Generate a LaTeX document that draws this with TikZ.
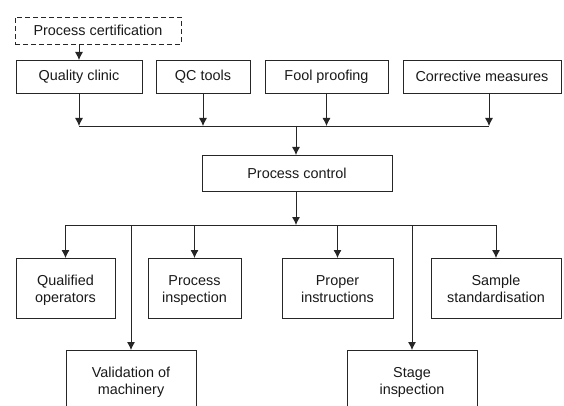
\documentclass[tikz,border=0pt]{standalone}
\usepackage{fontspec}
\setmainfont{Liberation Sans}
\usetikzlibrary{arrows.meta}
\newcommand\tpad{\rule{0pt}{14pt}}
\newcommand\bpad{\rule[-3pt]{0pt}{3pt}}
\begin{document}
\begin{tikzpicture}[x=1pt,y=-1pt,
  box/.style={draw=black!85, line width=0.8pt, inner sep=0pt, outer sep=0pt,
    align=center, font=\fontsize{14.4}{17}\selectfont, text=black!90},
  dbox/.style={box, dash pattern=on 5pt off 3pt},
  arr/.style={draw=black!85, line width=0.8pt, -{Latex[length=8pt,width=8pt]}},
  ln/.style={draw=black!85, line width=0.8pt}]
\useasboundingbox (0,0) rectangle (564,406);
\clip (0,0) rectangle (564,406);
% top
\node[dbox, minimum width=166pt, minimum height=27pt] (cert) at (98,30.5) {Process certification};
\node[box, minimum width=126pt, minimum height=33pt] (qc) at (79,76.5) {Quality clinic};
\node[box, minimum width=94pt, minimum height=33pt] (qct) at (203,76.5) {QC tools};
\node[box, minimum width=123pt, minimum height=33pt] (fool) at (326.5,76.5) {Fool proofing};
\node[box, minimum width=158pt, minimum height=33pt] (corr) at (482,76.5) {Corrective measures};
% middle
\node[box, minimum width=190pt, minimum height=36pt] (pc) at (297,173) {Process control};
% bottom row
\node[box, minimum width=99pt, minimum height=60pt] (qo) at (65.5,288) {\tpad Qualified\\operators\bpad};
\node[box, minimum width=93pt, minimum height=60pt] (pi) at (194.5,288) {\tpad Process\\inspection\bpad};
\node[box, minimum width=111pt, minimum height=60pt] (pin) at (337.5,288) {\tpad Proper\\instructions\bpad};
\node[box, minimum width=130pt, minimum height=60pt] (ss) at (496,288) {\tpad Sample\\standardisation\bpad};
\node[box, minimum width=130pt, minimum height=60pt] (val) at (131,380) {\tpad Validation of\\machinery\bpad};
\node[box, minimum width=130pt, minimum height=60pt] (stg) at (412,380) {\tpad Stage\\inspection\bpad};
% coordinates
\coordinate (bus1) at (296,126);
\coordinate (c489) at (489,126);
\coordinate (bus2) at (296,225);
% connectors top
\draw[arr] (qc.north |- cert.south) -- (qc.north);
\draw[arr] (qc.south) -- (qc.south |- bus1);
\draw[arr] (qct.south) -- (qct.south |- bus1);
\draw[arr] (fool.south) -- (fool.south |- bus1);
\draw[arr] (corr.south -| c489) -- (c489);
\draw[ln] (qc.south |- bus1) -- (c489);
\draw[arr] (bus1) -- (pc.north -| bus1);
% connectors bottom
\draw[arr] (pc.south -| bus2) -- (bus2);
\draw[ln] (qo.north |- bus2) -- (ss.north |- bus2);
\draw[arr] (qo.north |- bus2) -- (qo.north);
\draw[arr] (pi.north |- bus2) -- (pi.north);
\draw[arr] (pin.north |- bus2) -- (pin.north);
\draw[arr] (ss.north |- bus2) -- (ss.north);
\draw[arr] (val.north |- bus2) -- (val.north);
\draw[arr] (stg.north |- bus2) -- (stg.north);
\end{tikzpicture}
\end{document}
